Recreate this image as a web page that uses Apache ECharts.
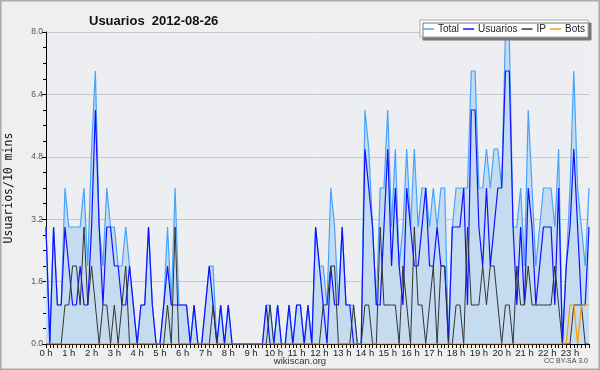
<!DOCTYPE html>
<html><head><meta charset="utf-8">
<script src="https://cdn.jsdelivr.net/npm/echarts@6/dist/echarts.min.js"></script>
<style>html,body{margin:0;padding:0;background:#efefef;}#c{width:600px;height:370px;}</style>
</head><body><div id="c"></div>
<script>
const hourLabels = ['0 h','1 h','2 h','3 h','4 h','5 h','6 h','7 h','8 h','9 h','10 h','11 h','12 h','13 h','14 h','15 h','16 h','17 h','18 h','19 h','20 h','21 h','22 h','23 h'];
const yTicks = [0, 1.6, 3.2, 4.8, 6.4, 8.0];
const total = [3,0,3,1,1,4,3,3,3,3,4,2,5,7,3,2,4,3,3,2,2,3,2,1,0,1,1,3,1,0,
0,1,3,1,4,1,1,1,0,1,0,0,1,2,2,0,1,0,1,0,
0,0,0,0,0,0,0,0,1,1,0,1,0,0,1,0,1,1,0,1,
0,3,2,2,1,4,3,1,3,1,1,1,0,0,6,5,3,1,4,4,
6,3,5,2,3,5,3,5,3,4,4,3,4,3,4,4,0,3,4,4,
4,4,7,7,4,4,5,4,5,5,4,8,8,3,3,4,2,6,4,2,
3,4,4,4,3,5,0,2,4,7,4,3,2,4];
const usuarios = [3,0,3,1,1,3,2,1,1,2,1,1,3,6,3,1,3,3,2,2,1,1,2,1,0,1,1,3,1,0,
0,1,2,1,1,1,1,1,0,1,0,0,1,2,1,0,1,0,1,0,
0,0,0,0,0,0,0,0,1,0,0,1,0,0,1,0,1,1,0,1,
0,3,2,1,0,2,1,1,3,1,1,0,0,0,5,4,3,1,1,3,
5,2,4,2,1,4,3,2,2,3,4,2,2,3,2,2,0,3,3,3,
4,1,6,6,3,2,4,2,3,4,4,7,7,3,1,3,1,4,3,1,
2,3,3,3,1,4,0,2,3,5,3,1,1,3];
const ip = [0,0,0,0,0,1,1,2,2,1,3,1,2,1,0,1,1,0,1,0,1,2,0,0,0,0,0,0,0,0,
0,0,1,0,3,0,0,0,0,0,0,0,0,0,1,0,0,0,0,0,
0,0,0,0,0,0,0,0,0,1,0,0,0,0,0,0,0,0,0,0,
0,0,0,1,1,2,2,0,0,0,0,1,0,0,1,1,0,0,3,1,
1,1,1,0,2,1,0,3,1,1,0,1,2,0,2,2,0,0,1,1,
0,3,1,1,1,2,1,2,2,1,0,1,1,0,2,1,1,2,1,1,
1,1,1,1,2,1,0,0,0,1,1,1,0,0];
const bots = [0,0,0,0,0,0,0,0,0,0,0,0,0,0,0,0,0,0,0,0,0,0,0,0,0,0,0,0,0,0,
0,0,0,0,0,0,0,0,0,0,0,0,0,0,0,0,0,0,0,0,
0,0,0,0,0,0,0,0,0,0,0,0,0,0,0,0,0,0,0,0,
0,0,0,0,0,0,0,0,0,0,0,0,0,0,0,0,0,0,0,0,
0,0,0,0,0,0,0,0,0,0,0,0,0,0,0,0,0,0,0,0,
0,0,0,0,0,0,0,0,0,0,0,0,0,0,0,0,0,0,0,0,
0,0,0,0,0,0,0,0,1,1,0,1,1,1];

const categories = total.map((_, i) => (i % 6 === 0 ? hourLabels[i / 6] : hourLabels[Math.floor(i / 6)] + (i % 6) * 10));

const chart = echarts.init(document.getElementById('c'), null, {renderer: 'canvas'});
chart.setOption({
  animation: false,
  backgroundColor: '#efefef',
  title: {
    text: 'Usuarios  2012-08-26', left: 84, top: 10,
    textStyle: {fontFamily: 'Liberation Sans', fontSize: 13, fontWeight: 'bold', color: '#111'}
  },
  legend: {
    right: 12, top: 20, padding: [4, 3, 3, 3], itemGap: 4,
    backgroundColor: '#fff', borderColor: '#aaa', borderWidth: 1,
    shadowColor: '#777', shadowOffsetX: 3, shadowOffsetY: 3, shadowBlur: 0,
    icon: 'rect', itemWidth: 11, itemHeight: 1.5,
    textStyle: {fontFamily: 'Liberation Sans', fontSize: 10, color: '#222', padding: [0, 0, 0, -1]},
    data: ['Total', 'Usuarios', 'IP', 'Bots']
  },
  grid: {left: 46, right: 11, top: 32, bottom: 26, show: true, backgroundColor: '#eceef1', borderWidth: 0,
         containLabel: false, outerBoundsMode: 'none'},
  xAxis: {
    type: 'category', data: categories, boundaryGap: false,
    axisLine: {lineStyle: {color: '#000', width: 1}},
    axisTick: {show: true, interval: 0, length: 4, lineStyle: {color: '#000'}},
    axisLabel: {interval: 5, formatter: v => (hourLabels.indexOf(v) >= 0 ? v : ''), fontFamily: 'Liberation Sans', fontSize: 9.5, color: '#222', margin: 4, hideOverlap: false},
    splitLine: {show: false}
  },
  yAxis: {
    type: 'value', min: 0, max: 8, interval: 1.6,
    name: 'Usuarios/10 mins', nameLocation: 'middle', nameGap: 31, nameRotate: 90,
    nameTextStyle: {fontFamily: 'DejaVu Sans Mono', fontSize: 11.5, color: '#111'},
    axisLine: {show: true, lineStyle: {color: '#000', width: 1}},
    axisTick: {show: true, length: 4, lineStyle: {color: '#000'}},
    minorTick: {show: true, splitNumber: 4, length: 3, lineStyle: {color: '#000'}},
    axisLabel: {formatter: v => (yTicks.indexOf(+v.toFixed(1)) >= 0 ? v.toFixed(1) : ''), fontFamily: 'Liberation Sans', fontSize: 8.5, color: '#555', margin: 3},
    splitLine: {show: true, lineStyle: {color: '#c9c9c9', width: 1}}
  },
  series: [
    {name: 'Total', type: 'line', data: total, symbol: 'none', z: 2,
     lineStyle: {color: '#45a3ff', width: 1.2}, itemStyle: {color: '#45a3ff'},
     areaStyle: {color: '#c5dcf0', opacity: 1}},
    {name: 'Usuarios', type: 'line', data: usuarios, symbol: 'none', z: 3,
     lineStyle: {color: '#1010ff', width: 1.2}, itemStyle: {color: '#1010ff'}},
    {name: 'IP', type: 'line', data: ip, symbol: 'none', z: 4,
     lineStyle: {color: '#333', width: 1}, itemStyle: {color: '#333'}},
    {name: 'Bots', type: 'line', data: bots, symbol: 'none', z: 5,
     lineStyle: {color: '#ff9a00', width: 1.2}, itemStyle: {color: '#ff9a00'}}
  ],
  graphic: [
    {type: 'rect', shape: {x: 0.75, y: 0.75, width: 598.5, height: 368.5}, style: {fill: 'none', stroke: '#aaa', lineWidth: 1.5}, silent: true},
    {type: 'text', left: 'center', top: 356, style: {text: 'wikiscan.org', font: '9.5px "Liberation Sans"', fill: '#333'}},
    {type: 'text', right: 12, top: 358, style: {text: 'CC BY-SA 3.0', font: '7px "Liberation Sans"', fill: '#444'}}
  ]
});
</script></body></html>
